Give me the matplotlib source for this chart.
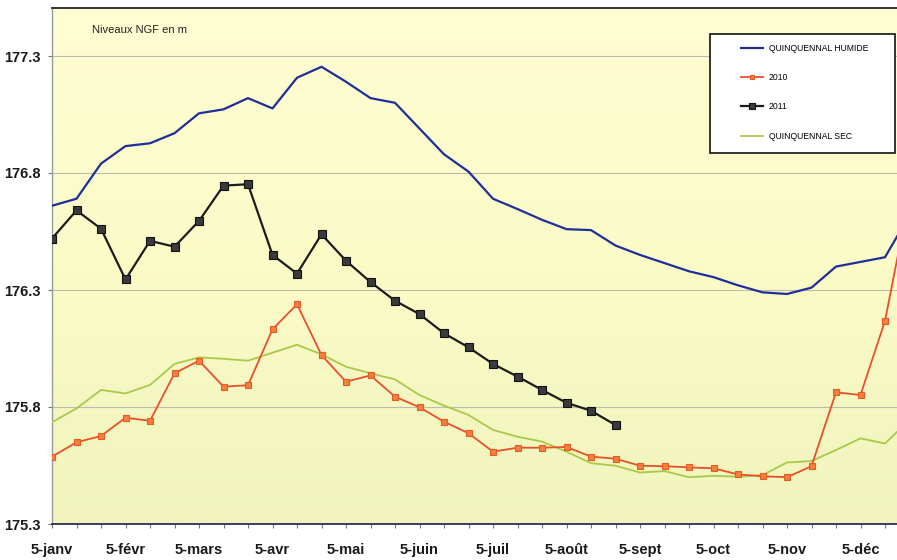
import numpy as np
import matplotlib
matplotlib.use("Agg")
import matplotlib.pyplot as plt
from matplotlib.patches import Rectangle
from matplotlib.colors import LinearSegmentedColormap

plt.rcParams['font.family'] = ['Liberation Sans', 'DejaVu Sans']

# ---- data ----
month_labels = ['5-janv', '5-févr', '5-mars', '5-avr', '5-mai', '5-juin',
                '5-juil', '5-août', '5-sept', '5-oct', '5-nov', '5-déc']

humide = [176.66, 176.69, 176.84, 176.915, 176.927, 176.97, 177.055, 177.072,
          177.12, 177.076, 177.207, 177.254, 177.19, 177.12, 177.10, 176.99,
          176.88, 176.806, 176.69, 176.646, 176.60, 176.56, 176.556, 176.49,
          176.45, 176.415, 176.38, 176.355, 176.32, 176.29, 176.283, 176.31,
          176.40, 176.42, 176.44, 176.62]

y2010 = [175.588, 175.649, 175.676, 175.754, 175.741, 175.944, 175.998, 175.887,
         175.893, 176.132, 176.239, 176.022, 175.908, 175.935, 175.844, 175.799,
         175.737, 175.688, 175.609, 175.626, 175.626, 175.629, 175.588, 175.579,
         175.549, 175.547, 175.542, 175.538, 175.512, 175.504, 175.500, 175.547,
         175.863, 175.851, 176.168, 176.70]

y2011 = [176.52, 176.64, 176.562, 176.345, 176.51, 176.485, 176.595, 176.746,
         176.752, 176.45, 176.37, 176.538, 176.425, 176.334, 176.254, 176.197,
         176.115, 176.055, 175.984, 175.93, 175.873, 175.818, 175.784, 175.723]

sec = [175.735, 175.794, 175.873, 175.858, 175.894, 175.984, 176.012, 176.006,
       175.998, 176.032, 176.066, 176.025, 175.972, 175.944, 175.918, 175.851,
       175.806, 175.766, 175.702, 175.673, 175.652, 175.609, 175.560, 175.549,
       175.520, 175.526, 175.500, 175.506, 175.502, 175.509, 175.563, 175.569,
       175.616, 175.666, 175.644, 175.745]

yticks = [175.3, 175.8, 176.3, 176.8, 177.3]
series_names = ['QUINQUENNAL HUMIDE', '2010', '2011', 'QUINQUENNAL SEC']

# ---- figure ----
W, H = 897, 560
fig = plt.figure(figsize=(W / 100, H / 100), dpi=100)
fig.patch.set_facecolor('white')

x0, x1 = 52, 52 + 35 * 24.5
ytop, ybot = 8, 524
ax = fig.add_axes([x0 / W, 1 - ybot / H, (x1 - x0) / W, (ybot - ytop) / H])

# background gradient
cmap = LinearSegmentedColormap.from_list('bg', ['#fffdd2', '#fbfbc8', '#f0f4bc'])
grad = np.linspace(0, 1, 256).reshape(-1, 1)
ax.imshow(grad, extent=[0, 1, 0, 1], transform=ax.transAxes, cmap=cmap,
          aspect='auto', zorder=0)

x = np.arange(len(humide))
ax.plot(x, sec, color='#a9c94c', lw=1.3, zorder=3, label=series_names[3])
ax.plot(np.arange(len(y2010)), y2010, color='#e8502a', lw=1.3, marker='s',
        markersize=4.4, markerfacecolor='#f57f3c', markeredgecolor='#e45a28',
        markeredgewidth=0.8, zorder=4, label=series_names[1])
ax.plot(np.arange(len(y2011)), y2011, color='#1c1c1c', lw=1.6, marker='s',
        markersize=5.5, markerfacecolor='#3a3a3a', markeredgecolor='#111111',
        markeredgewidth=0.8, zorder=5, label=series_names[2])
ax.plot(x, humide, color='#1d2f98', lw=1.6, zorder=6, label=series_names[0])

ax.set_xlim(0, 35)
ax.set_ylim(175.3, 177.3 + 48 / 234)

ax.set_yticks(yticks)
ax.set_yticklabels([f'{v:.1f}' for v in yticks])
for v in yticks[1:]:
    ax.axhline(v, color='#bdbdae', lw=0.8, zorder=1)

ticks = np.arange(36)
labels = []
for i in ticks:
    labels.append(month_labels[i // 3] if i % 3 == 0 and i // 3 < len(month_labels) else '')
ax.set_xticks(ticks)
ax.set_xticklabels(labels)

ax.tick_params(axis='x', length=3, width=0.8, color='#777777', pad=11,
               labelsize=10.5)
ax.tick_params(axis='y', length=3, width=0.8, color='#777777', pad=5,
               labelsize=10.5)
for lab in ax.get_xticklabels() + ax.get_yticklabels():
    lab.set_fontweight('bold')
    lab.set_color('#1a1a1a')

ax.spines['right'].set_visible(False)
ax.spines['top'].set_color('#333333')
ax.spines['top'].set_linewidth(1.4)
ax.spines['left'].set_color('#9a9a9a')
ax.spines['left'].set_linewidth(1.0)
ax.spines['bottom'].set_color('#2a2f55')
ax.spines['bottom'].set_linewidth(1.3)

ax.text(92 / W, 1 - 30 / H, 'Niveaux NGF en m', transform=fig.transFigure,
        fontsize=8, va='center', ha='left', color='#222222')

# legend box
fig.patches.append(Rectangle((710 / W, 1 - 153 / H), 185 / W, 119 / H,
                             transform=fig.transFigure, facecolor='white',
                             edgecolor='#111111', lw=1.2, zorder=10))
handles, labs = ax.get_legend_handles_labels()
order = [labs.index(n) for n in series_names]
leg = fig.legend([handles[i] for i in order], [labs[i] for i in order],
                 loc='upper left', bbox_to_anchor=(741 / W, 1 - 44 / H),
                 bbox_transform=fig.transFigure, frameon=False, fontsize=6.2,
                 labelspacing=2.35, handlelength=2.5, handletextpad=0.7,
                 borderpad=0, borderaxespad=0, markerscale=0.8)
leg.set_zorder(11)

fig.savefig('out.png', dpi=100)
